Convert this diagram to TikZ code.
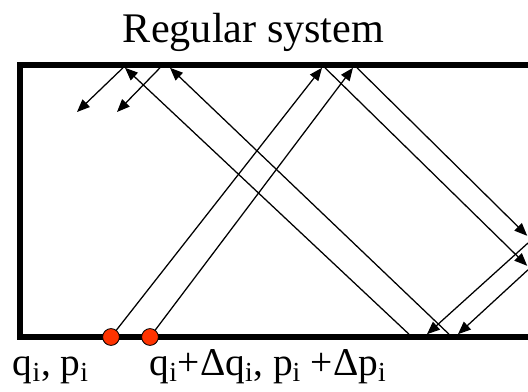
\documentclass[tikz,border=0pt]{standalone}
\usepackage{fontspec}
\setmainfont{Liberation Serif}
\usetikzlibrary{arrows.meta}
\definecolor{dotred}{RGB}{255,51,0}

\begin{document}
\begin{tikzpicture}[
    wall/.style={line width=4pt},
    ray/.style={line width=0.9pt, -{Triangle[length=0.32cm, width=0.26cm]}},
    dot/.style={circle, draw=black, line width=0.6pt, fill=dotred, minimum size=0.42cm, inner sep=0pt}
]
    \useasboundingbox (-0.5, -1.35) rectangle (12.7, 8.425);
    \node[anchor=base west, font=\fontsize{30}{36}\selectfont] (title) at (2.45, 7.375) {Regular system};
    \draw[wall] (12.9, 0) -- (0, 0) -- (0, 6.8) -- (12.9, 6.8);
    % first trajectory
    \coordinate (t1) at (7.55, 6.73);
    \coordinate (t1s) at (7.625, 6.73);
    \coordinate (r1) at (12.68, 1.78);
    \coordinate (r1s) at (12.7, 1.68);
    \coordinate (b1) at (10.95, 0.07);
    \coordinate (b1s) at (10.725, 0.07);
    \coordinate (u1) at (3.75, 6.73);
    \coordinate (u1s) at (3.5, 6.73);
    \coordinate (e1) at (2.425, 5.625);
    % second trajectory
    \coordinate (t2) at (8.325, 6.73);
    \coordinate (t2s) at (8.425, 6.73);
    \coordinate (r2) at (12.68, 2.53);
    \coordinate (r2s) at (12.7, 2.35);
    \coordinate (b2) at (10.175, 0.07);
    \coordinate (b2s) at (9.725, 0.07);
    \coordinate (u2) at (2.625, 6.73);
    \coordinate (u2s) at (2.575, 6.73);
    \coordinate (e2) at (1.425, 5.625);
    \draw[ray] (2.275, 0) -- (t1);
    \draw[ray] (t1s) -- (r1);
    \draw[ray] (r1s) -- (b1);
    \draw[ray] (b1s) -- (u1);
    \draw[ray] (u1s) -- (e1);
    \draw[ray] (3.25, 0) -- (t2);
    \draw[ray] (t2s) -- (r2);
    \draw[ray] (r2s) -- (b2);
    \draw[ray] (b2s) -- (u2);
    \draw[ray] (u2s) -- (e2);
    \node[dot] (d1) at (2.275, 0) {};
    \node[dot] (d2) at (3.25, 0) {};
    \node[anchor=base west, font=\fontsize{28}{34}\selectfont] (start) at (-0.3, -0.95) {q\textsubscript{i}, p\textsubscript{i}};
    \node[anchor=base west, font=\fontsize{28}{34}\selectfont] (shifted) at (3.12, -0.95) {q\textsubscript{i}+Δq\textsubscript{i}, p\textsubscript{i} +Δp\textsubscript{i}};
\end{tikzpicture}
\end{document}
